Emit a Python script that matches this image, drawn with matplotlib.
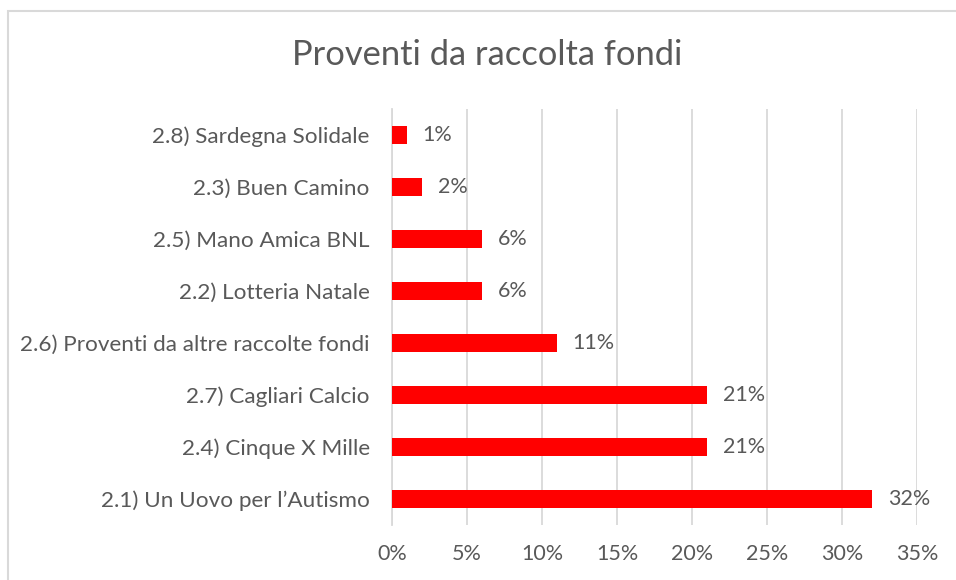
import matplotlib.pyplot as plt
from matplotlib.patches import Rectangle
from matplotlib.ticker import FuncFormatter

plt.rcParams['font.family'] = ['Lato', 'DejaVu Sans']

categories = [
    '2.1) Un Uovo per l\u2019Autismo',
    '2.4) Cinque X Mille',
    '2.7) Cagliari Calcio',
    '2.6) Proventi da altre raccolte fondi',
    '2.2) Lotteria Natale',
    '2.5) Mano Amica BNL',
    '2.3) Buen Camino',
    '2.8) Sardegna Solidale',
]
values = [0.32, 0.21, 0.21, 0.11, 0.06, 0.06, 0.02, 0.01]
x_ticks = [0, 0.05, 0.10, 0.15, 0.20, 0.25, 0.30, 0.35]

text_color = '#595959'
grid_color = '#d9d9d9'

fig = plt.figure(figsize=(9.56, 5.80), dpi=100)
ax = fig.add_axes([392 / 956, 1 - 525 / 580, 525 / 956, 416 / 580])

# chart border (runs off the right and bottom edges)
fig.patches.append(Rectangle((7.5 / 956, -0.05), 1.0, 1 - 10.5 / 580 + 0.05,
                             transform=fig.transFigure, fill=False,
                             edgecolor=grid_color, linewidth=1.5))

ypos = range(len(categories))
ax.barh(ypos, values, height=0.35, color='#ff0000', zorder=3)

for y, v in zip(ypos, values):
    ax.text(v + 0.0105, y, f'{v * 100:.0f}%', va='center', ha='left',
            fontsize=15.5, color=text_color)

ax.set_xlim(0, 0.35)
ax.set_ylim(-0.5, len(categories) - 0.5)
ax.set_xticks(x_ticks)
ax.xaxis.set_major_formatter(FuncFormatter(lambda v, p: f'{v * 100:.0f}%'))
ax.set_yticks(list(ypos))
ax.set_yticklabels(categories)
ax.tick_params(axis='both', length=0, labelsize=15.5, colors=text_color)
ax.tick_params(axis='y', labelsize=16.2, pad=16)
ax.tick_params(axis='x', pad=14)

ax.grid(axis='x', color=grid_color, linewidth=1.3, zorder=0)
for s in ['top', 'right', 'bottom']:
    ax.spines[s].set_visible(False)
ax.spines['left'].set_color(grid_color)
ax.spines['left'].set_linewidth(1.3)

fig.text(487 / 956, 1 - 55 / 580, 'Proventi da raccolta fondi', ha='center',
         va='center', fontsize=24.8, color=text_color)

plt.savefig('out.png', dpi=100)
plt.close()
